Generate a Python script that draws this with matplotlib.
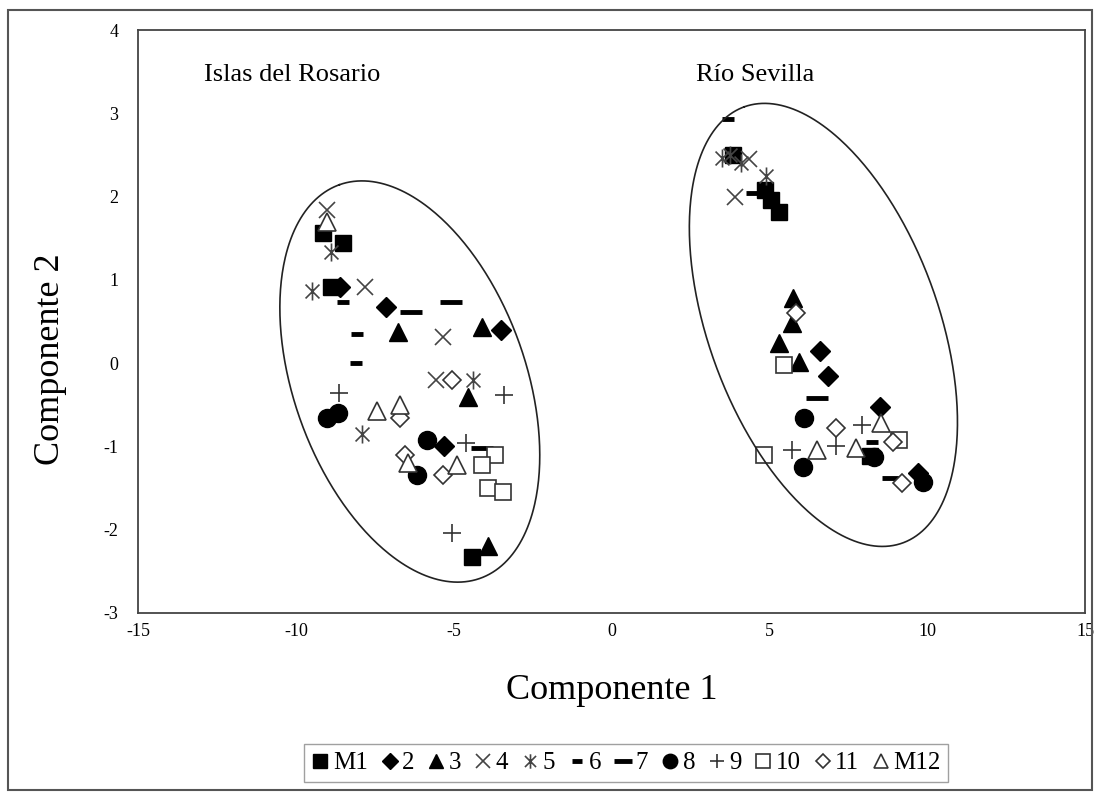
import numpy as np
import matplotlib.pyplot as plt
from matplotlib.path import Path
from matplotlib.patches import Rectangle

plt.rcParams['font.family'] = ['Liberation Serif', 'DejaVu Serif']
plt.rcParams['axes.unicode_minus'] = False

# data, one pair of lists per sample
m1_x = [-9.15, -8.5, -8.9, -4.43, 3.85, 4.85, 5.05, 5.3, 8.2]
m1_y = [1.56, 1.44, 0.92, -2.33, 2.5, 2.08, 1.96, 1.82, -1.12]
s2_x = [-8.6, -7.15, -3.5, -5.3, 6.6, 6.85, 8.5, 9.7]
s2_y = [0.92, 0.67, 0.4, -1.0, 0.15, -0.15, -0.53, -1.32]
s3_x = [-6.75, -4.1, -4.55, -3.9, 5.75, 5.7, 5.3, 5.95]
s3_y = [0.37, 0.43, -0.4, -2.2, 0.78, 0.48, 0.24, 0.01]
s4_x = [-9.0, -7.8, -5.35, -5.55, 4.35, 3.9]
s4_y = [1.84, 0.92, 0.31, -0.2, 2.45, 2.0]
s5_x = [-8.9, -9.5, -4.4, -7.9, 3.5, 3.75, 4.1, 4.9]
s5_y = [1.33, 0.87, -0.2, -0.85, 2.47, 2.5, 2.4, 2.25]
s6_x = [-8.5, -8.05, -8.1, 3.7, 4.45, 8.25]
s6_y = [0.73, 0.35, 0.0, 2.93, 2.05, -0.95]
s7_x = [-6.35, -5.1, -4.1, 6.5, 8.9]
s7_y = [0.62, 0.73, -1.02, -0.42, -1.38]
s8_x = [-9.0, -8.67, -5.85, -6.17, 6.1, 6.05, 8.32, 9.85]
s8_y = [-0.66, -0.6, -0.92, -1.34, -0.66, -1.25, -1.13, -1.43]
s9_x = [-8.64, -3.42, -4.6, -5.06, 5.73, 7.12, 7.94]
s9_y = [-0.36, -0.38, -0.96, -2.04, -1.04, -1.0, -0.74]
s10_x = [-3.7, -4.1, -3.9, -3.45, 5.47, 4.84, 9.1]
s10_y = [-1.1, -1.22, -1.5, -1.55, -0.02, -1.1, -0.92]
s11_x = [-5.06, -6.7, -6.55, -5.35, 5.85, 7.12, 8.9, 9.2]
s11_y = [-0.2, -0.66, -1.1, -1.34, 0.6, -0.78, -0.95, -1.44]
m12_x = [-9.0, -7.44, -6.7, -6.45, -4.9, 8.54, 6.52, 7.75]
m12_y = [1.7, -0.57, -0.5, -1.2, -1.22, -0.72, -1.04, -1.02]

# star marker like the spreadsheet one: an x with a vertical bar
star = Path([(-1, -1), (1, 1), (-1, 1), (1, -1), (0, -1.3), (0, 1.3)],
            [Path.MOVETO, Path.LINETO, Path.MOVETO, Path.LINETO, Path.MOVETO, Path.LINETO])

fig = plt.figure(figsize=(10.95, 7.95), dpi=100)
ax = fig.add_axes([0.126, 0.229, 0.865, 0.733])

k = dict(linestyle='none', color='black')
ax.plot(m1_x, m1_y, marker='s', markersize=12, label='M1', **k)
ax.plot(s2_x, s2_y, marker='D', markersize=10, label='2', **k)
ax.plot(s3_x, s3_y, marker='^', markersize=13, label='3', **k)
ax.plot(s4_x, s4_y, marker='x', markersize=12, markeredgewidth=1.2, markeredgecolor='#444444', label='4', **k)
ax.plot(s5_x, s5_y, marker=star, markersize=13, markeredgewidth=1.2, markeredgecolor='#444444', label='5', **k)
ax.plot(s6_x, s6_y, marker='_', markersize=9, markeredgewidth=3.5, label='6', **k)
ax.plot(s7_x, s7_y, marker='_', markersize=16, markeredgewidth=3.5, label='7', **k)
ax.plot(s8_x, s8_y, marker='o', markersize=13, label='8', **k)
ax.plot(s9_x, s9_y, marker='+', markersize=13, markeredgewidth=1.2, markeredgecolor='#333333', label='9', **k)
ax.plot(s10_x, s10_y, marker='s', markersize=12, markerfacecolor='white', markeredgewidth=1.2, markeredgecolor='#333333', label='10', **k)
ax.plot(s11_x, s11_y, marker='D', markersize=9, markerfacecolor='white', markeredgewidth=1.2, markeredgecolor='#333333', label='11', **k)
ax.plot(m12_x, m12_y, marker='^', markersize=13, markerfacecolor='white', markeredgewidth=1.2, markeredgecolor='#333333', label='M12', **k)

ax.set_xlim(-15, 15)
ax.set_ylim(-3, 4)
ax.set_xticks([-15, -10, -5, 0, 5, 10, 15])
ax.set_yticks([-3, -2, -1, 0, 1, 2, 3, 4])
ax.tick_params(length=0, labelsize=13)
ax.tick_params(axis='y', pad=14)
ax.tick_params(axis='x', pad=7)
for s in ax.spines.values():
    s.set_color('#444444')
    s.set_linewidth(1.3)

# ellipses round the two groups, sized in screen pixels so they tilt right
ax_w = fig.get_figwidth() * fig.dpi * 0.865
ax_h = fig.get_figheight() * fig.dpi * 0.733
sx = ax_w / 30.0
sy = ax_h / 7.0


def ellipse(cx, cy, a, b, phi):
    t = np.linspace(0, 2 * np.pi, 400)
    p = np.radians(phi)
    dx = a * np.cos(t) * (-np.sin(p)) + b * np.sin(t) * np.cos(p)
    dy = a * np.cos(t) * np.cos(p) + b * np.sin(t) * np.sin(p)
    ax.plot(cx + dx / sx, cy + dy / sy, color='#222222', linewidth=1.2)


ellipse(-6.39, -0.22, 209, 116, 19.7)
ellipse(6.71, 0.46, 232, 115, 20.0)

ax.text(-12.9, 3.46, 'Islas del Rosario', fontsize=19, va='center')
ax.text(2.69, 3.46, 'Río Sevilla', fontsize=19, va='center')

ax.set_xlabel('Componente 1', fontsize=26)
ax.set_ylabel('Componente 2', fontsize=26)
ax.xaxis.set_label_coords(0.5, -0.105)
ax.yaxis.set_label_coords(-0.075, 0.435)

fig.legend(loc='center', bbox_to_anchor=(0.572, 0.040), ncol=12, fontsize=18,
           handlelength=0.7, handletextpad=0.15, columnspacing=0.52, markerscale=0.8,
           frameon=True, fancybox=False, edgecolor='#888888', borderpad=0.3)

fig.patches.append(Rectangle((0.007, 0.006), 0.99, 0.982, transform=fig.transFigure,
                             fill=False, edgecolor='#555555', linewidth=1.5))

plt.savefig('out.png')
